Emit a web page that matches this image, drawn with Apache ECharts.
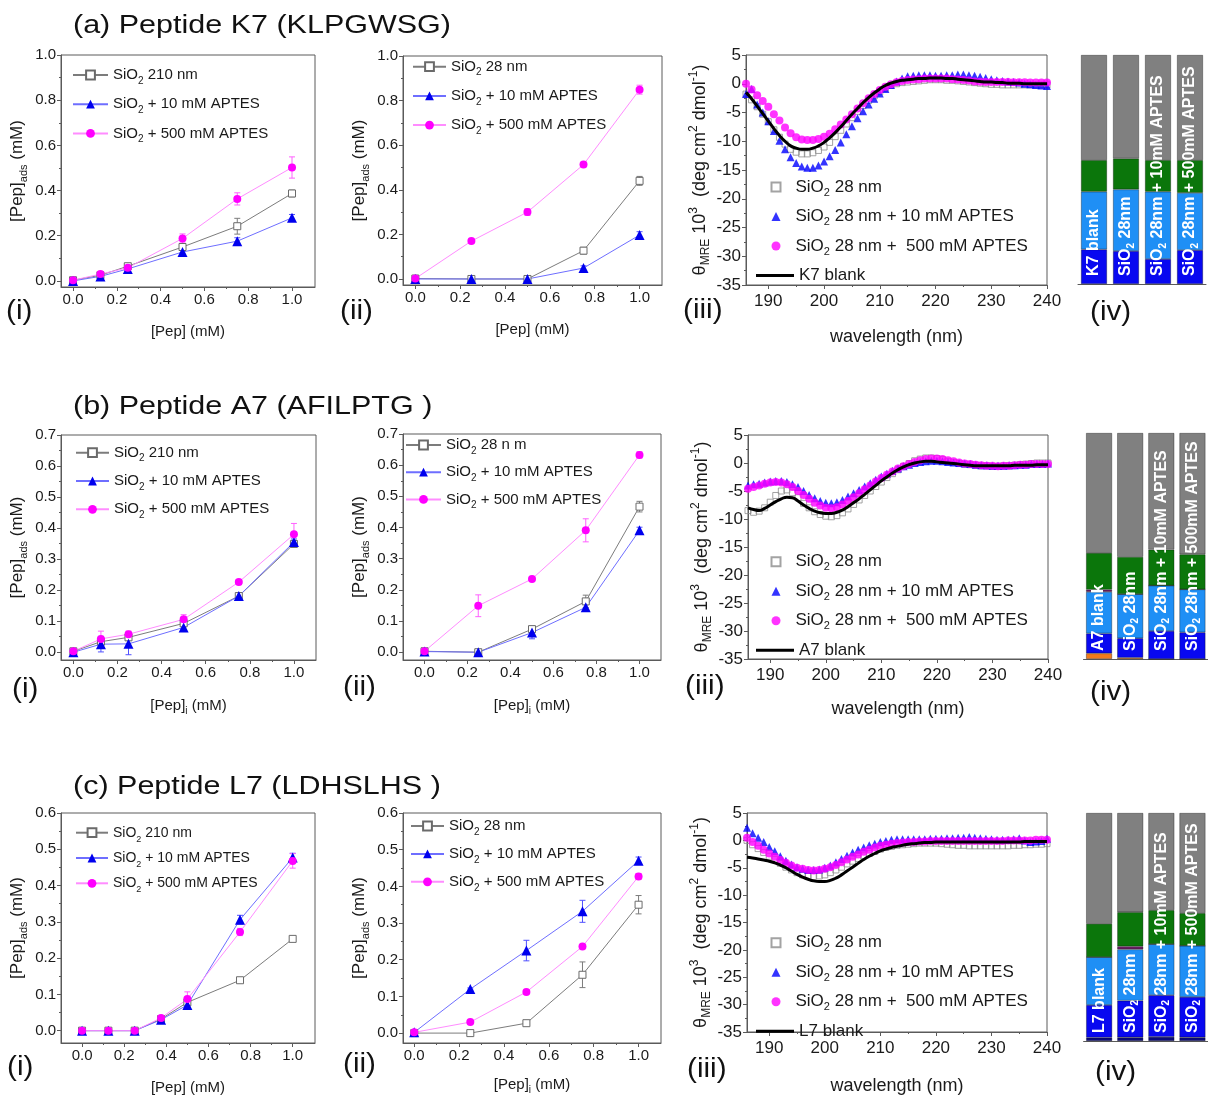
<!DOCTYPE html>
<html>
<head>
<meta charset="utf-8">
<title>Peptide adsorption and CD spectra</title>
<script src="https://cdn.jsdelivr.net/npm/echarts@6.0.0/dist/echarts.min.js"></script>
<style>
  html, body { margin: 0; padding: 0; background: #fff; }
  #chart { width: 1208px; height: 1099px; }
</style>
</head>
<body>
<div id="chart"></div>
<script>
// ---------- adsorption panels (i) and (ii): [Pep]ads vs [Pep]i ----------
const xConc6 = [0, 0.125, 0.25, 0.5, 0.75, 1.0]
const xConc5 = [0, 0.25, 0.5, 0.75, 1.0]
const xConc7 = [0, 0.125, 0.25, 0.375, 0.5, 0.75, 1.0]

// row a, K7
const k7iGray = [0.003, 0.025, 0.065, 0.15, 0.242, 0.387]
const k7iBlue = [0.0, 0.02, 0.053, 0.128, 0.176, 0.279]
const k7iMag = [0.003, 0.03, 0.058, 0.188, 0.363, 0.502]
const k7iGrayErr = [0.005, 0.005, 0.01, 0.01, 0.035, 0.015]
const k7iBlueErr = [0.005, 0.005, 0.008, 0.01, 0.015, 0.015]
const k7iMagErr = [0.005, 0.006, 0.008, 0.02, 0.027, 0.047]
const k7iiGray = [0.002, 0.0, 0.0, 0.127, 0.44]
const k7iiBlue = [0.0, 0.0, 0.0, 0.049, 0.197]
const k7iiMag = [0.002, 0.17, 0.30, 0.513, 0.849]
const k7iiGrayErr = [0.005, 0.003, 0.003, 0.015, 0.02]
const k7iiBlueErr = [0.005, 0.005, 0.005, 0.01, 0.015]
const k7iiMagErr = [0.005, 0.008, 0.015, 0.01, 0.02]

// row b, A7
const a7iGray = [0.003, 0.034, 0.048, 0.093, 0.181, 0.349]
const a7iBlue = [0.0, 0.026, 0.027, 0.08, 0.181, 0.355]
const a7iMag = [0.003, 0.043, 0.058, 0.106, 0.226, 0.38]
const a7iGrayErr = [0.005, 0.01, 0.01, 0.01, 0.01, 0.01]
const a7iBlueErr = [0.005, 0.025, 0.035, 0.01, 0.01, 0.01]
const a7iMagErr = [0.005, 0.025, 0.01, 0.015, 0.008, 0.035]
const a7iiGray = [0.003, 0.0, 0.074, 0.163, 0.467]
const a7iiBlue = [0.002, 0.0, 0.063, 0.144, 0.391]
const a7iiMag = [0.003, 0.149, 0.235, 0.391, 0.633]
const a7iiGrayErr = [0.005, 0.003, 0.008, 0.02, 0.017]
const a7iiBlueErr = [0.005, 0.003, 0.02, 0.01, 0.01]
const a7iiMagErr = [0.005, 0.035, 0.008, 0.037, 0.01]

// row c, L7
const l7iGray = [0.0, 0.0, 0.0, 0.032, 0.078, 0.139, 0.253]
const l7iBlue = [0.0, 0.0, 0.0, 0.03, 0.071, 0.306, 0.477]
const l7iMag = [0.0, 0.0, 0.0, 0.035, 0.087, 0.272, 0.468]
const l7iGrayErr = [0.003, 0.003, 0.003, 0.005, 0.005, 0.005, 0.005]
const l7iBlueErr = [0.003, 0.003, 0.003, 0.01, 0.01, 0.012, 0.012]
const l7iMagErr = [0.003, 0.003, 0.003, 0.006, 0.02, 0.01, 0.02]
const l7iiGray = [0.0, 0.0, 0.027, 0.159, 0.35]
const l7iiBlue = [0.002, 0.12, 0.225, 0.332, 0.47]
const l7iiMag = [0.002, 0.03, 0.112, 0.236, 0.427]
const l7iiGrayErr = [0.005, 0.003, 0.005, 0.035, 0.025]
const l7iiBlueErr = [0.005, 0.003, 0.028, 0.03, 0.01]
const l7iiMagErr = [0.005, 0.003, 0.005, 0.005, 0.008]

const concTicks = [0, 0.2, 0.4, 0.6, 0.8, 1.0]
const concMinor = [0.1, 0.3, 0.5, 0.7, 0.9]
const adsTicksA = [0, 0.2, 0.4, 0.6, 0.8, 1.0]
const adsMinorA = [0.1, 0.3, 0.5, 0.7, 0.9]
const adsTicksB = [0, 0.1, 0.2, 0.3, 0.4, 0.5, 0.6, 0.7]
const adsMinorB = [0.05, 0.15, 0.25, 0.35, 0.45, 0.55, 0.65]
const adsTicksC = [0, 0.1, 0.2, 0.3, 0.4, 0.5, 0.6]
const adsMinorC = [0.05, 0.15, 0.25, 0.35, 0.45, 0.55]

// ---------- CD spectra, panel (iii) ----------
const wavelength = [186, 187, 188, 189, 190, 191, 192, 193, 194, 195, 196, 197, 198, 199, 200,
  201, 202, 203, 204, 205, 206, 207, 208, 209, 210, 211, 212, 213, 214, 215, 216, 217, 218, 219, 220,
  221, 222, 223, 224, 225, 226, 227, 228, 229, 230, 231, 232, 233, 234, 235, 236, 237, 238, 239, 240]

const k7cdGray = [-1.8, -2.8, -4.0, -5.3, -6.6, -8.0, -9.3, -10.5, -11.4, -11.9, -12.2, -12.2, -12.0, -11.6, -11.0,
  -10.2, -9.2, -8.1, -7.0, -5.9, -4.8, -3.8, -2.9, -2.1, -1.4, -0.8, -0.3, 0.0, 0.2, 0.3, 0.4, 0.5, 0.6, 0.7, 0.7,
  0.7, 0.6, 0.6, 0.5, 0.4, 0.3, 0.2, 0.1, 0.0, -0.1, -0.1, -0.2, -0.2, -0.2, -0.2, -0.2, -0.2, -0.2, -0.2, -0.2]
const k7cdBlue = [-1.8, -0.9, -3.6, -5.0, -6.5, -8.2, -9.9, -11.4, -12.8, -13.8, -14.4, -14.6, -14.6, -14.2, -13.5,
  -12.6, -11.5, -10.2, -8.8, -7.4, -6.0, -4.8, -3.6, -2.6, -1.7, -0.9, -0.2, 0.4, 0.9, 1.3, 1.4, 1.5, 1.5, 1.5, 1.4,
  1.4, 1.5, 1.5, 1.6, 1.6, 1.5, 1.4, 1.2, 1.0, 0.8, 0.6, 0.5, 0.4, 0.3, 0.2, 0.0, -0.1, -0.2, -0.3, -0.4]
const k7cdMag = [0.0, -1.0, -2.0, -3.0, -4.0, -5.3, -6.4, -7.6, -8.6, -9.3, -9.7, -9.8, -9.8, -9.6, -9.2,
  -8.7, -7.9, -7.1, -6.2, -5.3, -4.3, -3.4, -2.5, -1.8, -1.1, -0.5, -0.1, 0.25, 0.5, 0.65, 0.75, 0.8, 0.9, 0.9, 0.9,
  0.9, 0.9, 0.8, 0.75, 0.65, 0.55, 0.4, 0.35, 0.3, 0.3, 0.3, 0.3, 0.3, 0.25, 0.25, 0.25, 0.2, 0.2, 0.2, 0.2]
const k7cdBlank = [-1.5, -2.6, -3.9, -5.2, -6.5, -7.8, -9.0, -10.0, -10.8, -11.2, -11.4, -11.4, -11.2, -10.8, -10.2,
  -9.4, -8.5, -7.5, -6.4, -5.3, -4.3, -3.3, -2.4, -1.6, -0.9, -0.3, 0.1, 0.4, 0.6, 0.7, 0.8, 0.9, 0.9, 1.0, 1.0,
  1.0, 0.9, 0.9, 0.8, 0.7, 0.6, 0.5, 0.4, 0.3, 0.3, 0.2, 0.2, 0.1, 0.1, 0.1, 0.0, 0.0, 0.0, 0.0, 0.0]

const a7cdGray = [-8.5, -8.8, -8.6, -8.0, -7.0, -5.8, -5.0, -4.8, -5.3, -6.2, -7.2, -8.0, -8.7, -9.2, -9.5,
  -9.6, -9.4, -8.9, -8.2, -7.4, -6.6, -5.8, -5.0, -4.2, -3.4, -2.6, -1.9, -1.2, -0.6, -0.1, 0.4, 0.7, 0.9, 0.9, 0.8,
  0.6, 0.3, 0.1, -0.1, -0.2, -0.3, -0.4, -0.5, -0.5, -0.6, -0.6, -0.5, -0.5, -0.4, -0.3, -0.2, -0.1, 0.0, 0.0, 0.0]
const a7cdBlue = [-4.0, -3.8, -3.7, -3.5, -3.3, -3.2, -3.2, -3.4, -3.8, -4.3, -5.0, -5.7, -6.3, -6.8, -7.1,
  -7.2, -7.0, -6.6, -6.0, -5.4, -4.8, -4.2, -3.6, -3.0, -2.4, -1.9, -1.4, -1.0, -0.6, -0.3, 0.0, 0.2, 0.3, 0.4, 0.4,
  0.3, 0.2, 0.1, 0.0, -0.1, -0.2, -0.3, -0.4, -0.4, -0.5, -0.5, -0.5, -0.4, -0.4, -0.3, -0.3, -0.2, -0.2, -0.2, -0.1]
const a7cdMag = [-4.6, -4.3, -4.0, -3.7, -3.5, -3.4, -3.5, -3.8, -4.3, -5.0, -5.7, -6.4, -7.1, -7.6, -8.0,
  -8.1, -7.9, -7.4, -6.8, -6.1, -5.4, -4.7, -4.0, -3.3, -2.7, -2.1, -1.5, -1.0, -0.6, -0.2, 0.2, 0.5, 0.7, 0.8, 0.8,
  0.7, 0.5, 0.3, 0.1, -0.1, -0.2, -0.3, -0.4, -0.5, -0.5, -0.6, -0.5, -0.5, -0.4, -0.3, -0.3, -0.2, -0.2, -0.2, -0.2]
const a7cdBlank = [-8.0, -8.3, -8.5, -8.1, -7.5, -6.9, -6.4, -6.1, -6.2, -6.8, -7.5, -8.1, -8.6, -8.9, -9.0,
  -9.0, -8.8, -8.4, -7.8, -7.1, -6.4, -5.6, -4.8, -4.0, -3.2, -2.5, -1.8, -1.2, -0.7, -0.3, 0.0, 0.2, 0.3, 0.3, 0.2,
  0.1, 0.0, -0.1, -0.2, -0.3, -0.4, -0.5, -0.5, -0.5, -0.5, -0.5, -0.5, -0.5, -0.4, -0.4, -0.4, -0.4, -0.3, -0.3, -0.3]

const l7cdGray = [0.0, -0.8, -1.5, -2.2, -2.9, -3.5, -4.2, -4.9, -5.4, -5.9, -6.3, -6.5, -6.6, -6.5, -6.3,
  -5.9, -5.4, -4.9, -4.3, -3.8, -3.3, -2.8, -2.4, -2.0, -1.6, -1.3, -1.1, -0.9, -0.8, -0.7, -0.6, -0.5, -0.5, -0.5, -0.5,
  -0.6, -0.7, -0.8, -0.9, -0.9, -1.0, -1.0, -1.0, -1.0, -1.0, -1.0, -1.0, -1.0, -0.9, -0.9, -0.8, -0.8, -0.7, -0.7, -0.6]
const l7cdBlue = [2.3, 1.3, 0.5, -0.3, -1.2, -2.0, -2.9, -3.7, -4.4, -4.9, -5.2, -5.4, -5.4, -5.3, -5.0,
  -4.6, -4.0, -3.4, -2.8, -2.2, -1.7, -1.3, -0.9, -0.6, -0.3, -0.1, 0.1, 0.2, 0.2, 0.2, 0.2, 0.2, 0.2, 0.3, 0.3,
  0.3, 0.4, 0.4, 0.5, 0.5, 0.6, 0.5, 0.4, 0.3, 0.2, 0.1, 0.1, 0.1, 0.2, 0.4, 0.0, -0.3, -0.2, -0.1, 0.3]
const l7cdMag = [0.5, -0.3, -1.0, -1.7, -2.4, -3.0, -3.6, -4.1, -4.6, -5.0, -5.2, -5.4, -5.5, -5.4, -5.2,
  -4.9, -4.5, -4.0, -3.5, -3.0, -2.6, -2.1, -1.7, -1.3, -1.0, -0.8, -0.6, -0.5, -0.4, -0.3, -0.3, -0.2, -0.2, -0.1, -0.1,
  -0.1, -0.1, -0.1, -0.1, -0.1, -0.1, -0.1, -0.1, -0.1, -0.1, -0.1, -0.1, 0.0, 0.0, 0.0, 0.0, 0.0, 0.1, 0.1, 0.1]
const l7cdBlank = [-3.1, -3.2, -3.4, -3.6, -3.8, -4.1, -4.5, -5.0, -5.6, -6.2, -6.7, -7.1, -7.4, -7.5, -7.5,
  -7.3, -6.9, -6.3, -5.6, -4.9, -4.2, -3.5, -2.9, -2.4, -1.9, -1.6, -1.3, -1.1, -0.9, -0.7, -0.6, -0.5, -0.4, -0.4, -0.3,
  -0.3, -0.3, -0.3, -0.3, -0.3, -0.3, -0.3, -0.3, -0.3, -0.3, -0.3, -0.3, -0.3, -0.3, -0.3, -0.2, -0.2, -0.2, -0.2, -0.2]

const wlTicks = [190, 200, 210, 220, 230, 240]
const wlMinor = [195, 205, 215, 225, 235]
const cdTicks = [-35, -30, -25, -20, -15, -10, -5, 0, 5]
const cdMinor = [-32.5, -27.5, -22.5, -17.5, -12.5, -7.5, -2.5, 2.5]

// ---------- secondary structure bars, panel (iv), percent ----------
const sampleCats = ['blank', 'SiO2 28nm', 'SiO2 28nm + 10mM APTES', 'SiO2 28nm + 500mM APTES']
const k7Struct = {
  orange: [0, 0, 0, 0], navy: [0, 0, 0, 0],
  blue: [15.1, 14.4, 10.9, 14.8], light: [25.2, 26.9, 29.4, 25.0], purple: [0, 0, 0, 0],
  green: [13.8, 13.5, 13.8, 14.3], gray: [45.9, 45.2, 45.9, 45.9]
}
const a7Struct = {
  orange: [2.5, 0.6, 0, 0], navy: [0, 0, 0, 0],
  blue: [8.8, 8.6, 12.4, 11.8], light: [18.4, 19.5, 20.1, 19.0], purple: [1.0, 0, 0, 0],
  green: [16.2, 16.5, 15.9, 15.5], gray: [53.1, 54.8, 51.6, 53.7]
}
const l7Struct = {
  orange: [0, 0, 0, 0], navy: [1.5, 1.6, 1.8, 1.6],
  blue: [14.3, 16.1, 18.3, 17.7], light: [21.0, 22.5, 22.4, 22.5], purple: [0, 1.3, 0, 0],
  green: [14.6, 15.0, 14.9, 14.3], gray: [48.6, 43.5, 42.6, 43.9]
}
const structColors = {
  orange: '#f07a1c', navy: '#0a0a78', blue: '#0808f0', light: '#1f8ff5',
  purple: '#6e1f66', green: '#0b760b', gray: '#808080'
}

// ---------- styles and builders ----------
const SANS = "'Liberation Sans', Arial, Helvetica, sans-serif"
const AX = '#5a5a5a'
const INK = '#1a1a1a'

const grid = []
const xAxis = []
const yAxis = []
const series = []
const legend = []
const graphic = []
const LABELS = {}

function rich (fs, color, weight) {
  const s = Math.round(fs * 0.64)
  const base = { fontSize: s, fontFamily: SANS, color: color, fontWeight: weight || 'normal', lineHeight: s }
  return {
    s: Object.assign({ verticalAlign: 'bottom' }, base),
    u: Object.assign({ verticalAlign: 'top' }, base)
  }
}

function valueAxes (g, o) {
  const xi = xAxis.length
  const yi = yAxis.length
  const line = { onZero: false, lineStyle: { color: AX, width: 1 } }
  const nts = { fontFamily: SANS, fontSize: o.nfs, color: INK, lineHeight: o.nfs + 6, rich: rich(o.nfs, INK) }
  const yts = { fontFamily: SANS, fontSize: o.ynfs, color: INK, lineHeight: o.ynfs + 6, rich: rich(o.ynfs, INK) }
  xAxis.push({
    type: 'value', gridIndex: g, position: 'bottom', min: o.xr[0], max: o.xr[1],
    axisLine: line, splitLine: { show: false },
    axisTick: { customValues: o.xt, length: 4, lineStyle: { color: AX } },
    axisLabel: { customValues: o.xt, formatter: o.xf, fontFamily: SANS, fontSize: o.xfs, color: INK, margin: o.xmg },
    name: o.xName, nameLocation: 'middle', nameGap: o.xGap, nameTextStyle: nts
  }, {
    type: 'value', gridIndex: g, position: 'bottom', min: o.xr[0], max: o.xr[1],
    axisLine: { show: false, onZero: false }, splitLine: { show: false }, axisLabel: { show: false },
    axisTick: { customValues: o.xm, length: 2, lineStyle: { color: AX } }
  })
  yAxis.push({
    type: 'value', gridIndex: g, position: 'left', min: o.yr[0], max: o.yr[1],
    axisLine: line, splitLine: { show: false },
    axisTick: { customValues: o.yt, length: 4, lineStyle: { color: AX } },
    axisLabel: { customValues: o.yt, formatter: o.yf, fontFamily: SANS, fontSize: o.yfs, color: INK, margin: 5 },
    name: o.yName, nameLocation: 'middle', nameGap: o.yGap, nameTextStyle: yts
  }, {
    type: 'value', gridIndex: g, position: 'left', min: o.yr[0], max: o.yr[1],
    axisLine: { show: false, onZero: false }, splitLine: { show: false }, axisLabel: { show: false },
    axisTick: { customValues: o.ym, length: 2, lineStyle: { color: AX } }
  })
  return [xi, yi]
}

function addLegend (names, o) {
  legend.push({
    orient: 'vertical', left: o.left, top: o.top, padding: 0,
    itemWidth: o.w, itemHeight: o.h || 11, itemGap: o.gap, selectedMode: false,
    icon: o.icon,
    data: names,
    formatter: n => LABELS[n],
    textStyle: {
      fontFamily: SANS, fontSize: o.fs, color: INK, lineHeight: 22,
      padding: [0, 0, 0, o.pad || 0], rich: rich(o.fs, INK)
    }
  })
}

function renderErr (params, api) {
  const x = api.value(0)
  const lo = api.coord([x, api.value(1)])
  const hi = api.coord([x, api.value(2)])
  const st = { stroke: api.visual('color'), lineWidth: 1 }
  return {
    type: 'group',
    children: [
      { type: 'line', shape: { x1: lo[0], y1: lo[1], x2: hi[0], y2: hi[1] }, style: st },
      { type: 'line', shape: { x1: lo[0] - 3, y1: lo[1], x2: lo[0] + 3, y2: lo[1] }, style: st },
      { type: 'line', shape: { x1: hi[0] - 3, y1: hi[1], x2: hi[0] + 3, y2: hi[1] }, style: st }
    ]
  }
}

const ISO_STYLE = [
  { symbol: 'rect', size: 7, item: { color: '#fff', borderColor: '#6a6a6a', borderWidth: 1 }, line: '#7c7c7c', err: '#7c7c7c' },
  { symbol: 'triangle', size: 10, item: { color: '#0000ee' }, line: '#6e6eff', err: '#5050ff' },
  { symbol: 'circle', size: 8, item: { color: '#ff00ff' }, line: '#ff8cff', err: '#ff60ff' }
]

function isoPanel (id, p) {
  const g = grid.push(Object.assign({ show: true, borderColor: AX, borderWidth: 1 }, p.rect)) - 1
  const [xi, yi] = valueAxes(g, {
    xr: p.xr, yr: p.yr, xt: concTicks, xm: concMinor, yt: p.yt, ym: p.ym,
    xf: v => v.toFixed(1), yf: v => v.toFixed(1), xfs: 15, yfs: 15, xmg: 5, nfs: 15, ynfs: 17,
    xName: p.xName, xGap: p.xGap, yName: '[Pep]{s|ads} (mM)', yGap: 32
  })
  const names = []
  p.ys.forEach((ys, k) => {
    const st = ISO_STYLE[k]
    const name = id + '-' + k
    names.push(name)
    LABELS[name] = p.labels[k]
    series.push({
      type: 'custom', xAxisIndex: xi, yAxisIndex: yi, z: 2, silent: true,
      itemStyle: { color: st.err }, renderItem: renderErr,
      data: p.x.map((x, i) => [x, ys[i] - p.es[k][i], ys[i] + p.es[k][i]])
    })
    series.push({
      type: 'line', name: name, xAxisIndex: xi, yAxisIndex: yi, z: 3,
      symbol: st.symbol, symbolSize: st.size, itemStyle: st.item,
      lineStyle: { color: st.line, width: 1 },
      data: p.x.map((x, i) => [x, ys[i]])
    })
  })
  addLegend(names, p.leg)
}

const CD_STYLE = [
  { symbol: 'rect', size: 6, item: { color: 'rgba(255,255,255,0)', borderColor: '#8c8c8c', borderWidth: 1 } },
  { symbol: 'triangle', size: 8, item: { color: '#0000ff' } },
  { symbol: 'circle', size: 8, item: { color: '#ff00ff' } }
]

function cdPanel (id, p) {
  const g = grid.push(Object.assign({ show: true, borderColor: AX, borderWidth: 1 }, p.rect)) - 1
  const [xi, yi] = valueAxes(g, {
    xr: [186, 240], yr: [-35, 5], xt: wlTicks, xm: wlMinor, yt: cdTicks, ym: cdMinor,
    xf: v => String(v), yf: v => String(v), xfs: 17, yfs: 17, xmg: 8, nfs: 18, ynfs: 18,
    xName: 'wavelength (nm)', xGap: p.xGap,
    yName: '\u03b8{s|MRE} 10{u|3}  (deg cm{u|2} dmol{u|-1})', yGap: 34
  })
  const markNames = []
  let lineName = ''
  p.ys.forEach((ys, k) => {
    const name = id + '-' + k
    LABELS[name] = p.labels[k]
    if (k < 3) {
      const st = CD_STYLE[k]
      markNames.push(name)
      series.push({
        type: 'scatter', name: name, xAxisIndex: xi, yAxisIndex: yi, z: 3 + k,
        symbol: st.symbol, symbolSize: st.size, itemStyle: st.item,
        data: wavelength.map((w, i) => [w, ys[i]])
      })
    } else {
      lineName = name
      series.push({
        type: 'line', name: name, xAxisIndex: xi, yAxisIndex: yi, z: 7,
        symbol: 'none', smooth: true, lineStyle: { color: '#000', width: 3 }, itemStyle: { color: '#000' },
        data: wavelength.map((w, i) => [w, ys[i]])
      })
    }
  })
  addLegend(markNames, { left: 770.5, top: p.legTop, w: 9, h: 9, gap: 7.5, fs: 17, pad: 10 })
  addLegend([lineName], { left: 756, top: p.legTop + 3 * 29.5, w: 38, h: 3, gap: 0, fs: 17, icon: 'rect' })
}

function barPanel (peptide, struct, rect) {
  const g = grid.push(Object.assign({ show: false }, rect)) - 1
  const xi = xAxis.length
  const yi = yAxis.length
  xAxis.push({
    type: 'category', gridIndex: g, data: sampleCats,
    axisLine: { lineStyle: { color: AX } },
    axisTick: { alignWithLabel: true, length: 4, lineStyle: { color: AX } },
    axisLabel: { show: false }
  })
  yAxis.push({ type: 'value', gridIndex: g, min: 0, max: 100, show: false })
  Object.keys(structColors).forEach(key => {
    if (!struct[key].some(v => v > 0)) return
    series.push({
      type: 'bar', xAxisIndex: xi, yAxisIndex: yi, stack: 'st' + g, barWidth: 26, barGap: '-100%',
      itemStyle: { color: structColors[key], borderColor: 'rgba(0,0,0,0.55)', borderWidth: 0.6 },
      data: struct[key], silent: true
    })
  })
  series.push({
    type: 'bar', xAxisIndex: xi, yAxisIndex: yi, barWidth: 26, barGap: '-100%', z: 6, silent: true,
    itemStyle: { color: 'rgba(0,0,0,0)' },
    data: sampleCats.map(() => 100),
    label: {
      show: true, position: 'insideBottom', rotate: 90, align: 'left', verticalAlign: 'middle', distance: 8,
      color: '#fff', fontFamily: SANS, fontWeight: 'bold', fontSize: 16, lineHeight: 20,
      rich: rich(16, '#fff', 'bold'),
      formatter: p => (p.name === 'blank' ? peptide + ' blank' : p.name.replace('SiO2', 'SiO{s|2}'))
    }
  })
}

// ---------- row a: K7 ----------
isoPanel('ka1', {
  rect: { left: 61, top: 55, width: 254, height: 232 }, xr: [-0.055, 1.105], yr: [-0.027, 1.0],
  yt: adsTicksA, ym: adsMinorA, x: xConc6, ys: [k7iGray, k7iBlue, k7iMag], es: [k7iGrayErr, k7iBlueErr, k7iMagErr],
  xName: '[Pep] (mM)', xGap: 34,
  labels: ['SiO{s|2} 210 nm', 'SiO{s|2} + 10 mM APTES', 'SiO{s|2} + 500 mM APTES'],
  leg: { left: 72, top: 64, w: 35, gap: 7.2, fs: 15 }
})
isoPanel('ka2', {
  rect: { left: 403, top: 56, width: 259, height: 229 }, xr: [-0.055, 1.1], yr: [-0.027, 1.0],
  yt: adsTicksA, ym: adsMinorA, x: xConc5, ys: [k7iiGray, k7iiBlue, k7iiMag], es: [k7iiGrayErr, k7iiBlueErr, k7iiMagErr],
  xName: '[Pep] (mM)', xGap: 34,
  labels: ['SiO{s|2} 28 nm', 'SiO{s|2} + 10 mM APTES', 'SiO{s|2} + 500 mM APTES'],
  leg: { left: 412, top: 55.7, w: 33, gap: 7.2, fs: 15 }
})
cdPanel('ka3', {
  rect: { left: 746, top: 55, width: 301, height: 230 }, xGap: 40, legTop: 176,
  ys: [k7cdGray, k7cdBlue, k7cdMag, k7cdBlank],
  labels: ['SiO{s|2} 28 nm', 'SiO{s|2} 28 nm + 10 mM APTES', 'SiO{s|2} 28 nm +  500 mM APTES', 'K7 blank']
})
barPanel('K7', k7Struct, { left: 1078, top: 55, width: 128, height: 229 })

// ---------- row b: A7 ----------
isoPanel('ab1', {
  rect: { left: 61, top: 435, width: 255, height: 225 }, xr: [-0.056, 1.1], yr: [-0.025, 0.7],
  yt: adsTicksB, ym: adsMinorB, x: xConc6, ys: [a7iGray, a7iBlue, a7iMag], es: [a7iGrayErr, a7iBlueErr, a7iMagErr],
  xName: '[Pep]{s|i} (mM)', xGap: 35,
  labels: ['SiO{s|2} 210 nm', 'SiO{s|2} + 10 mM APTES', 'SiO{s|2} + 500 mM APTES'],
  leg: { left: 75, top: 441.7, w: 33, gap: 6.3, fs: 15 }
})
isoPanel('ab2', {
  rect: { left: 403, top: 434, width: 258, height: 226 }, xr: [-0.1, 1.1], yr: [-0.025, 0.7],
  yt: adsTicksB, ym: adsMinorB, x: xConc5, ys: [a7iiGray, a7iiBlue, a7iiMag], es: [a7iiGrayErr, a7iiBlueErr, a7iiMagErr],
  xName: '[Pep]{s|i} (mM)', xGap: 35,
  labels: ['SiO{s|2} 28 n m', 'SiO{s|2} + 10 mM APTES', 'SiO{s|2} + 500 mM APTES'],
  leg: { left: 405, top: 434, w: 35, gap: 5.2, fs: 15 }
})
cdPanel('ab3', {
  rect: { left: 748, top: 435, width: 300, height: 224 }, xGap: 38, legTop: 550.7,
  ys: [a7cdGray, a7cdBlue, a7cdMag, a7cdBlank],
  labels: ['SiO{s|2} 28 nm', 'SiO{s|2} 28 nm + 10 mM APTES', 'SiO{s|2} 28 nm +  500 mM APTES', 'A7 blank']
})
barPanel('A7', a7Struct, { left: 1083.5, top: 433, width: 132, height: 226 })

// ---------- row c: L7 ----------
isoPanel('lc1', {
  rect: { left: 61, top: 813, width: 254, height: 232 }, xr: [-0.1, 1.106], yr: [-0.034, 0.6],
  yt: adsTicksC, ym: adsMinorC, x: xConc7, ys: [l7iGray, l7iBlue, l7iMag], es: [l7iGrayErr, l7iBlueErr, l7iMagErr],
  xName: '[Pep] (mM)', xGap: 34,
  labels: ['SiO{s|2} 210 nm', 'SiO{s|2} + 10 mM APTES', 'SiO{s|2} + 500 mM APTES'],
  leg: { left: 75, top: 821.7, w: 32, gap: 3.3, fs: 14 }
})
isoPanel('lc2', {
  rect: { left: 403, top: 813, width: 258, height: 230 }, xr: [-0.05, 1.1], yr: [-0.027, 0.6],
  yt: adsTicksC, ym: adsMinorC, x: xConc5, ys: [l7iiGray, l7iiBlue, l7iiMag], es: [l7iiGrayErr, l7iiBlueErr, l7iiMagErr],
  xName: '[Pep]{s|i} (mM)', xGap: 31,
  labels: ['SiO{s|2} 28 nm', 'SiO{s|2} + 10 mM APTES', 'SiO{s|2} + 500 mM APTES'],
  leg: { left: 410, top: 815, w: 33, gap: 5.9, fs: 15 }
})
cdPanel('lc3', {
  rect: { left: 747, top: 813, width: 300, height: 229 }, xGap: 42, legTop: 931.7,
  ys: [l7cdGray, l7cdBlue, l7cdMag, l7cdBlank],
  labels: ['SiO{s|2} 28 nm', 'SiO{s|2} 28 nm + 10 mM APTES', 'SiO{s|2} 28 nm +  500 mM APTES', 'L7 blank']
})
barPanel('L7', l7Struct, { left: 1083.6, top: 813, width: 128.8, height: 228 })

// ---------- titles and panel tags ----------
function addText (text, x, y, size, sx) {
  graphic.push({
    type: 'text', x: x, y: y, scaleX: sx || 1, silent: true,
    style: {
      text: text, fill: '#111', font: size + "px 'Liberation Sans', Arial, sans-serif",
      align: 'left', verticalAlign: 'middle', textAlign: 'left', textVerticalAlign: 'middle'
    }
  })
}
addText('(a) Peptide K7 (KLPGWSG)', 73, 26, 25, 1.22)
addText('(b) Peptide A7 (AFILPTG )', 73, 407, 25, 1.22)
addText('(c) Peptide L7 (LDHSLHS )', 73, 787, 25, 1.22)
const tagRows = [
  [[6, 312], [340, 312], [683, 311], [1090, 313]],
  [[12, 690], [343, 688], [685, 687], [1090, 693]],
  [[7, 1068], [343, 1065], [687, 1070], [1095, 1073]]
]
const tagText = ['(i)', '(ii)', '(iii)', '(iv)']
tagRows.forEach(row => row.forEach((p, k) => addText(tagText[k], p[0], p[1], 27, 1.1)))

const chart = echarts.init(document.getElementById('chart'))
chart.setOption({
  animation: false,
  backgroundColor: '#fff',
  grid: grid,
  xAxis: xAxis,
  yAxis: yAxis,
  legend: legend,
  graphic: graphic,
  series: series
})
</script>
</body>
</html>
